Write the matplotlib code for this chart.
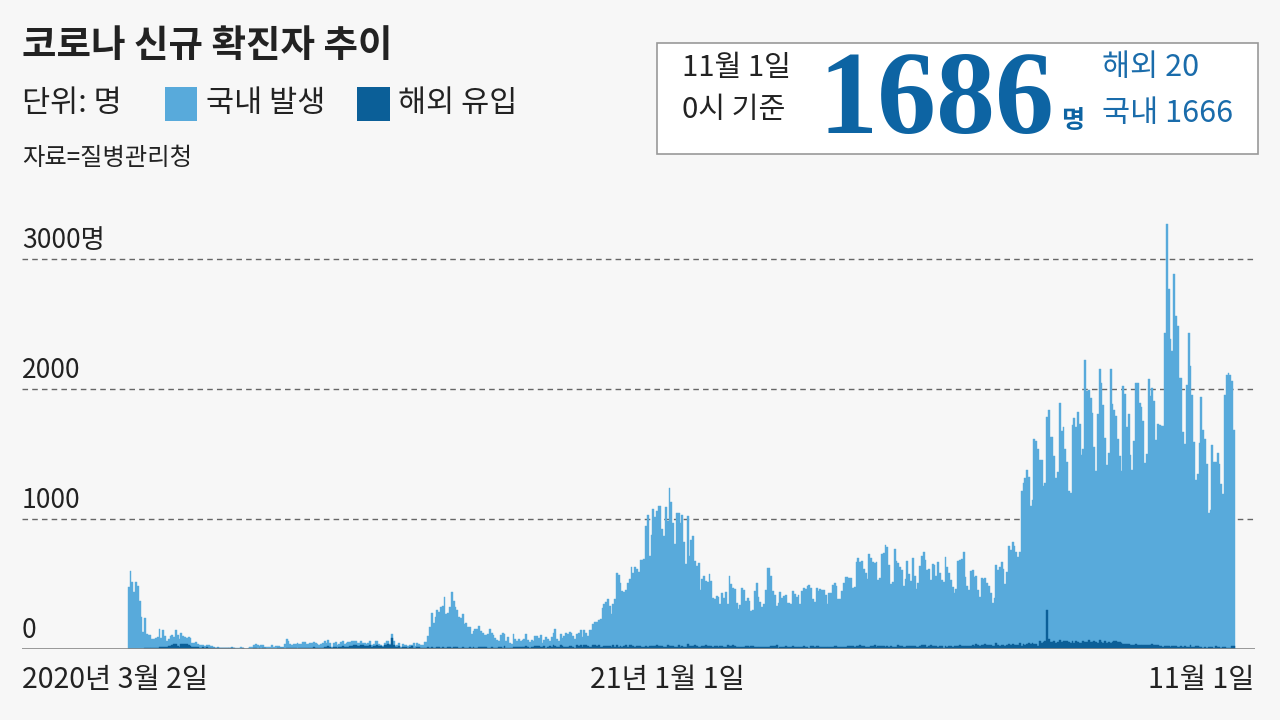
import numpy as np
import pandas as pd
import matplotlib
matplotlib.use('Agg')
import matplotlib.pyplot as plt
import matplotlib.patches as mpatches

plt.rcParams['font.family'] = ['Noto Sans CJK KR', 'DejaVu Sans']

# daily new cases (total = domestic + overseas), by month
total_2020_03 = [476, 600, 516, 438, 518, 483, 367, 248, 131, 242, 114, 110, 107, 76, 74, 84, 93, 152, 87, 147,
                 98, 64, 76, 100, 104, 91, 146, 105, 78, 125]
total_2020_04 = [101, 89, 86, 94, 81, 47, 47, 53, 39, 27, 30, 32, 25, 27, 27, 22, 22, 18, 8, 13,
                 9, 11, 8, 6, 10, 10, 10, 14, 9, 4]
total_2020_05 = [9, 6, 13, 8, 3, 2, 4, 12, 18, 34, 35, 27, 26, 29, 27, 19, 13, 15, 13, 32,
                 12, 20, 23, 25, 16, 19, 40, 79, 58, 39, 27]
total_2020_06 = [35, 38, 49, 39, 39, 51, 57, 38, 38, 50, 45, 56, 49, 37, 34, 37, 43, 59, 49, 67,
                 48, 17, 46, 51, 28, 39, 51, 62, 42, 43]
total_2020_07 = [51, 54, 63, 63, 61, 48, 44, 62, 50, 45, 35, 44, 62, 33, 39, 61, 60, 39, 34, 26,
                 45, 63, 59, 41, 113, 58, 25, 28, 48, 18, 36]
total_2020_08 = [31, 30, 23, 34, 33, 43, 20, 43, 36, 28, 34, 54, 56, 103, 166, 279, 197, 246, 297, 288,
                 324, 332, 397, 266, 280, 320, 441, 371, 323, 299, 248]
total_2020_09 = [235, 267, 195, 198, 168, 167, 119, 136, 156, 155, 176, 136, 121, 109, 106, 113, 153, 126, 110, 82,
                 70, 61, 110, 125, 114, 61, 95, 50, 38, 113]
total_2020_10 = [77, 63, 75, 64, 73, 75, 114, 69, 54, 72, 58, 97, 102, 84, 110, 47, 73, 91, 76, 58,
                 89, 121, 155, 77, 61, 119, 88, 103, 125, 114, 127]
total_2020_11 = [124, 97, 75, 118, 125, 145, 89, 143, 126, 100, 146, 143, 191, 205, 208, 223, 230, 313, 343, 363,
                 386, 330, 271, 349, 382, 583, 569, 504, 450, 438]
total_2020_12 = [451, 511, 540, 629, 583, 631, 615, 594, 686, 682, 689, 950, 1030, 718, 880, 1078, 1014, 1064, 1097, 1097,
                 926, 869, 1092, 985, 1241, 1132, 970, 808, 1045, 1050, 967]
total_2021_01 = [1029, 824, 657, 1020, 715, 840, 869, 674, 641, 665, 451, 537, 562, 524, 513, 580, 520, 389, 386, 404,
                 400, 346, 431, 392, 437, 349, 559, 497, 469, 458, 355]
total_2021_02 = [305, 336, 467, 451, 370, 393, 372, 289, 303, 444, 504, 403, 362, 326, 344, 457, 621, 621, 561, 448,
                 416, 332, 357, 440, 396, 406, 415, 356]
total_2021_03 = [355, 344, 444, 424, 398, 416, 346, 446, 470, 465, 488, 490, 468, 382, 363, 469, 445, 463, 452, 456,
                 415, 346, 428, 430, 494, 505, 482, 382, 384, 447, 506]
total_2021_04 = [551, 557, 543, 543, 473, 478, 668, 700, 671, 677, 614, 587, 542, 731, 698, 673, 658, 672, 532, 549,
                 731, 735, 797, 785, 644, 499, 512, 769, 680, 661]
total_2021_05 = [627, 606, 488, 541, 676, 574, 525, 701, 564, 463, 511, 635, 715, 747, 681, 610, 619, 528, 654, 646,
                 561, 666, 585, 530, 516, 707, 629, 587, 533, 480, 430]
total_2021_06 = [459, 677, 681, 695, 744, 556, 485, 454, 602, 611, 556, 565, 452, 399, 545, 540, 545, 507, 482, 429,
                 357, 395, 645, 610, 634, 668, 614, 501, 595, 794]
total_2021_07 = [762, 826, 794, 743, 711, 746, 1212, 1275, 1316, 1378, 1324, 1100, 1150, 1615, 1599, 1536, 1455, 1454, 1252, 1278,
                 1784, 1842, 1630, 1629, 1487, 1318, 1365, 1896, 1674, 1710, 1539]
total_2021_08 = [1442, 1219, 1202, 1725, 1776, 1704, 1823, 1729, 1492, 1537, 2223, 1987, 1990, 1928, 1816, 1556, 1372, 1805, 2152, 2050,
                 1880, 1626, 1418, 1508, 2154, 1882, 1840, 1793, 1619, 1485, 1372]
total_2021_09 = [2025, 1961, 1709, 1804, 1490, 1375, 1597, 2050, 2049, 1892, 1865, 1755, 1433, 1497, 2080, 1943, 2008, 1909, 1604, 1729,
                 1720, 1716, 1715, 2434, 3273, 2771, 2383, 2289, 2885, 2564]
total_2021_10 = [2486, 2086, 2085, 1673, 1575, 2028, 2427, 2175, 1953, 1594, 1297, 1347, 1584, 1940, 1684, 1616, 1420, 1050, 1073, 1571,
                 1440, 1441, 1508, 1423, 1266, 1190, 1952, 2111, 2124, 2104, 2061]
total_2021_11 = [1686]

# overseas (해외 유입) part of each day
over_2020_03 = [1, 0, 1, 2, 3, 2, 1, 2, 3, 5, 5, 4, 6, 4, 5, 6, 10, 17, 12, 14,
                15, 19, 21, 22, 34, 39, 41, 20, 19, 36]
over_2020_04 = [36, 38, 40, 31, 22, 18, 14, 16, 16, 9, 10, 12, 10, 13, 10, 10, 11, 10, 5, 6,
                4, 5, 6, 5, 7, 4, 7, 7, 5, 3]
over_2020_05 = [3, 2, 3, 5, 2, 2, 2, 3, 1, 6, 6, 3, 4, 2, 6, 4, 3, 3, 3, 3,
                2, 3, 5, 8, 6, 4, 2, 11, 6, 4, 4]
over_2020_06 = [5, 4, 3, 6, 8, 10, 6, 5, 7, 7, 8, 13, 8, 7, 7, 10, 9, 13, 12, 23,
                13, 7, 16, 12, 9, 14, 16, 22, 16, 12]
over_2020_07 = [15, 23, 23, 28, 29, 24, 21, 28, 28, 23, 21, 23, 28, 18, 20, 25, 30, 20, 20, 16,
                27, 30, 38, 27, 86, 34, 16, 14, 20, 10, 17]
over_2020_08 = [13, 12, 7, 18, 20, 10, 7, 12, 13, 8, 9, 7, 9, 18, 11, 12, 9, 11, 14, 12,
                8, 17, 10, 8, 16, 13, 7, 12, 15, 16, 10]
over_2020_09 = [10, 19, 9, 9, 9, 14, 11, 12, 11, 11, 15, 15, 15, 13, 14, 8, 8, 16, 10, 9,
                9, 12, 14, 8, 20, 11, 11, 10, 8, 12]
over_2020_10 = [14, 12, 16, 14, 13, 12, 21, 15, 10, 17, 12, 25, 26, 22, 17, 15, 22, 10, 14, 21,
                12, 29, 20, 17, 17, 28, 23, 15, 14, 18, 20]
over_2020_11 = [23, 19, 7, 29, 26, 31, 18, 32, 27, 22, 19, 19, 28, 29, 20, 30, 15, 19, 25, 22,
                24, 23, 16, 31, 19, 30, 16, 21, 19, 24]
over_2020_12 = [31, 18, 28, 29, 24, 16, 21, 20, 24, 19, 16, 22, 12, 20, 24, 24, 26, 28, 25, 26,
                23, 19, 18, 28, 26, 26, 20, 16, 18, 32, 14]
over_2021_01 = [24, 18, 16, 35, 20, 22, 21, 29, 21, 19, 16, 26, 25, 27, 26, 24, 20, 15, 23, 22,
                15, 22, 23, 17, 17, 28, 20, 26, 29, 25, 14]
over_2021_02 = [15, 15, 16, 14, 22, 25, 19, 23, 21, 14, 18, 19, 18, 16, 17, 16, 19, 14, 26, 22,
                21, 27, 8, 12, 14, 17, 21, 16]
over_2021_03 = [16, 17, 20, 18, 19, 17, 15, 12, 22, 18, 17, 10, 20, 23, 16, 26, 20, 18, 18, 14,
                19, 14, 19, 14, 12, 21, 24, 17, 16, 14, 18]
over_2021_04 = [18, 24, 20, 22, 24, 19, 24, 23, 27, 20, 20, 13, 18, 18, 23, 21, 29, 17, 20, 26,
                22, 24, 13, 24, 19, 22, 15, 19, 19, 27]
over_2021_05 = [20, 22, 13, 16, 22, 23, 20, 21, 22, 17, 19, 22, 29, 28, 34, 17, 21, 31, 24, 22,
                20, 19, 20, 24, 11, 25, 17, 26, 24, 19, 21]
over_2021_06 = [21, 25, 28, 20, 21, 26, 26, 21, 22, 32, 26, 35, 29, 26, 28, 31, 37, 32, 27, 31,
                20, 22, 43, 28, 25, 34, 34, 22, 31, 37]
over_2021_07 = [30, 35, 34, 32, 29, 44, 20, 35, 29, 42, 44, 35, 44, 41, 35, 24, 63, 46, 53, 58,
                300, 78, 53, 51, 65, 43, 54, 70, 51, 58, 60]
over_2021_08 = [59, 53, 50, 61, 47, 64, 57, 45, 47, 63, 53, 52, 70, 57, 54, 64, 55, 46, 66, 53,
                49, 59, 44, 51, 50, 52, 58, 62, 53, 57, 45]
over_2021_09 = [39, 42, 42, 40, 31, 30, 34, 36, 34, 30, 31, 34, 32, 33, 33, 29, 35, 30, 33, 27,
                25, 22, 18, 23, 22, 20, 18, 22, 24, 20]
over_2021_10 = [18, 17, 23, 16, 20, 18, 16, 29, 18, 16, 20, 24, 14, 14, 10, 14, 11, 16, 13, 14,
                11, 25, 13, 12, 9, 16, 19, 11, 10, 11, 22]
over_2021_11 = [20]

total = (total_2020_03 + total_2020_04 + total_2020_05 + total_2020_06 + total_2020_07 + total_2020_08
         + total_2020_09 + total_2020_10 + total_2020_11 + total_2020_12 + total_2021_01 + total_2021_02
         + total_2021_03 + total_2021_04 + total_2021_05 + total_2021_06 + total_2021_07 + total_2021_08
         + total_2021_09 + total_2021_10 + total_2021_11)
overseas = (over_2020_03 + over_2020_04 + over_2020_05 + over_2020_06 + over_2020_07 + over_2020_08
            + over_2020_09 + over_2020_10 + over_2020_11 + over_2020_12 + over_2021_01 + over_2021_02
            + over_2021_03 + over_2021_04 + over_2021_05 + over_2021_06 + over_2021_07 + over_2021_08
            + over_2021_09 + over_2021_10 + over_2021_11)
dates = pd.date_range('2020-03-02', '2021-11-01', freq='D')

y_ticks = [0, 1000, 2000, 3000]
y_tick_labels = ['0', '1000', '2000', '3000명']
x_labels = ['2020년 3월 2일', '21년 1월 1일', '11월 1일']

LIGHT = '#58aadb'
DARK = '#0b5f98'
BLUE_TXT = '#0d64a3'
BG = '#f7f7f7'

W, H = 1280, 720
fig = plt.figure(figsize=(12.8, 7.2), dpi=100, facecolor=BG)

def fx(px):
    return px / W

def fy(py):
    return 1 - py / H

# chart area (pixel layout taken from reference)
ax = fig.add_axes([fx(22), fy(649), fx(1255 - 22), (649 - 220) / H])
ax.set_facecolor(BG)
px_per_day = (1235 - 128) / 609.0
x0 = dates[0] - pd.Timedelta(days=(128.9 - 22) / px_per_day)
x1 = dates[-1] + pd.Timedelta(days=(1255 - 1234) / px_per_day)
ax.set_xlim(x0, x1)
ax.set_ylim(0, 3300)

ax.bar(dates, total, width=1.0, color=LIGHT, edgecolor=LIGHT, linewidth=0.3, zorder=2)
ax.bar(dates, overseas, width=1.0, color=DARK, edgecolor=DARK, linewidth=0.3, zorder=3)

for v in y_ticks[1:]:
    ax.axhline(v, color='#666666', lw=1, ls=(0, (4, 3)), zorder=1)
ax.axhline(0, color='#888888', lw=1.2, zorder=4)
for s in ax.spines.values():
    s.set_visible(False)
ax.set_xticks([])
ax.set_yticks([])

# y labels sit just above their gridlines
for v, lab in zip(y_ticks, y_tick_labels):
    ax.text(0, v + 40, lab, transform=ax.get_yaxis_transform(), ha='left', va='bottom',
            fontsize=19, color='#222222')

fig.text(fx(22), fy(680), x_labels[0], ha='left', va='center', fontsize=20.5, color='#222222')
fig.text(fx(667), fy(680), x_labels[1], ha='center', va='center', fontsize=20.5, color='#222222')
fig.text(fx(1255), fy(680), x_labels[2], ha='right', va='center', fontsize=20.5, color='#222222')

# title block
fig.text(fx(22), fy(45), '코로나 신규 확진자 추이', ha='left', va='center', fontsize=27,
         fontweight='bold', color='#222222')
fig.text(fx(22), fy(103), '단위: 명', ha='left', va='center', fontsize=22, color='#222222')
fig.patches.append(mpatches.Rectangle((fx(165), fy(121)), fx(32), 34 / H, transform=fig.transFigure,
                                      facecolor=LIGHT, edgecolor='none'))
fig.text(fx(206), fy(103), '국내 발생', ha='left', va='center', fontsize=22, color='#222222')
fig.patches.append(mpatches.Rectangle((fx(357), fy(121)), fx(33), 34 / H, transform=fig.transFigure,
                                      facecolor=DARK, edgecolor='none'))
fig.text(fx(398), fy(103), '해외 유입', ha='left', va='center', fontsize=22, color='#222222')
fig.text(fx(22), fy(158), '자료=질병관리청', ha='left', va='center', fontsize=17.5, color='#222222')

# summary box
fig.patches.append(mpatches.Rectangle((fx(657), fy(154)), fx(601), 111 / H, transform=fig.transFigure,
                                      facecolor='white', edgecolor='#999999', lw=1.2))
fig.text(fx(682), fy(68), '11월 1일', ha='left', va='center', fontsize=21, color='#222222')
fig.text(fx(682), fy(110), '0시 기준', ha='left', va='center', fontsize=21, color='#222222')
fig.text(fx(818), fy(133), '1686', ha='left', va='baseline', fontsize=85, fontweight='bold',
         family='Liberation Serif', color=BLUE_TXT)
fig.text(fx(1061), fy(128), '명', ha='left', va='baseline', fontsize=18, fontweight='bold', color=BLUE_TXT)
fig.text(fx(1102), fy(68), '해외 20', ha='left', va='center', fontsize=22, color='#1a6cab')
fig.text(fx(1102), fy(114), '국내 1666', ha='left', va='center', fontsize=22, color='#1a6cab')

fig.savefig('out.png', dpi=100, facecolor=BG)
